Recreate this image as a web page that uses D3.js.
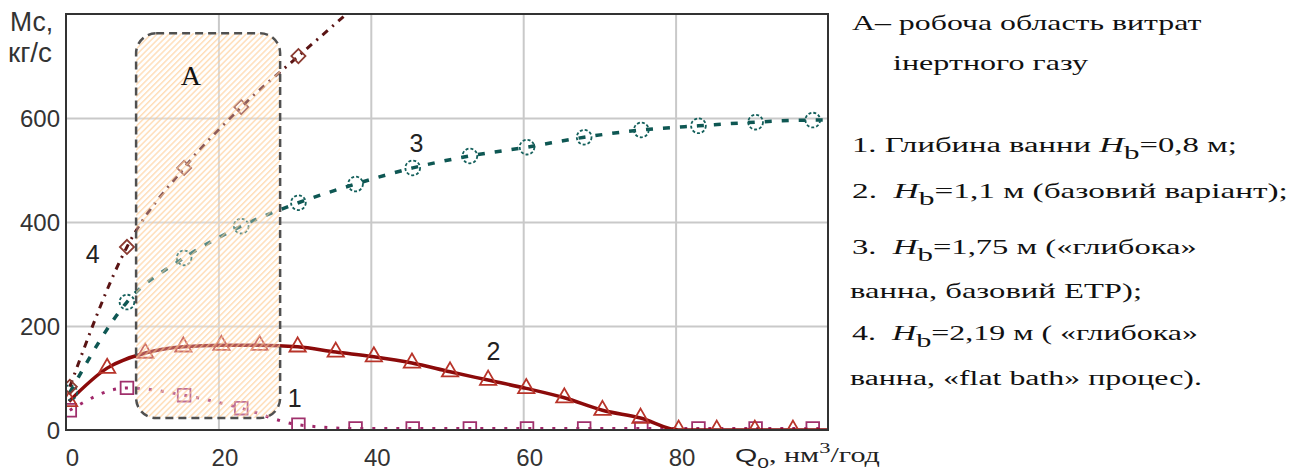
<!DOCTYPE html>
<html><head><meta charset="utf-8">
<script src="https://cdn.jsdelivr.net/npm/d3@7"></script>
<style>body{margin:0;background:#fff;} svg{display:block;}</style>
</head><body><svg id="c" width="1290" height="473"></svg>
<script>
// ---------- data ----------
const xTicks = [0, 20, 40, 60, 80];
const yTicks = [0, 200, 400, 600];
const xGrid = [20, 40, 60, 80];
const yGrid = [200, 400, 600];
// series 1 (Hb=0.8 m), squares
const q1 = [0.5, 8, 15.5, 23, 30.5, 38, 45.5, 53, 60.5, 68, 75.5, 83, 90.5, 98];
const s1 = [38, 81, 67, 42, 10, 3, 3, 3, 3, 3, 3, 3, 3, 3];
// series 2 (Hb=1.1 m), triangles
const q2 = [0.4, 5.4, 10.4, 15.4, 20.4, 25.4, 30.4, 35.4, 40.4, 45.4, 50.4, 55.4, 60.4, 65.4, 70.4, 75.4, 80.4, 85.4, 90.4, 95.4];
const s2 = [55, 119, 148, 160, 163, 163, 160, 150, 141, 129, 112, 96, 80, 62, 38, 23, 0, 0, 0, 0];
// series 3 (Hb=1.75 m), circles
const q3 = [0.5, 8, 15.5, 23, 30.5, 38, 45.5, 53, 60.5, 68, 75.5, 83, 90.5, 98];
const s3 = [72, 246, 331, 392, 437, 473, 504, 527, 544, 563, 577, 585, 592, 596];
// series 4 (Hb=2.19 m), diamonds
const q4 = [0.5, 8, 15.5, 23, 30.5, 38];
const s4 = [83, 352, 504, 621, 719, 815];
// working area A
const areaAX = [9.2, 28.1];
const areaAY = [23, 763];
// curve labels
const curveLabels = ["1", "2", "3", "4"];
const curveLabelX = [30.0, 56.1, 46.0, 3.5];
const curveLabelY = [44, 135, 535, 321];
const areaLabel = "А";
const areaLabelX = 16.4, areaLabelY = 663;
const legendText = [
  "А– робоча область витрат",
  "інертного газу",
  "1. Глибина ванни H_b=0,8 м;",
  "2.  H_b=1,1 м (базовий варіант);",
  "3.  H_b=1,75 м («глибока»",
  "ванна, базовий ЕТР);",
  "4.  H_b=2,19 м ( «глибока»",
  "ванна, «flat bath» процес)."
];

// ---------- layout ----------
const svg = d3.select('#c');
const x = d3.scaleLinear().domain([0, 100]).range([66, 828]);
const y = d3.scaleLinear().domain([0, 800]).range([430, 14]);
const pw = x(100) - x(0), ph = y(0) - y(800);

const defs = svg.append('defs');
defs.append('clipPath').attr('id', 'plotClip').append('rect')
  .attr('x', x(0)).attr('y', y(800)).attr('width', pw).attr('height', ph);
const pat = defs.append('pattern').attr('id', 'hatch')
  .attr('patternUnits', 'userSpaceOnUse').attr('width', 4.2).attr('height', 4.2)
  .attr('patternTransform', 'rotate(45)');
pat.append('rect').attr('width', 4.2).attr('height', 4.2).attr('fill', 'rgba(255,255,255,0.3)');
pat.append('rect').attr('x', 0).attr('width', 1.5).attr('height', 4.2).attr('fill', 'rgba(255,200,140,0.6)');

// grid
const grid = svg.append('g');
grid.append('g').attr('transform', `translate(0,${y(0)})`)
  .call(d3.axisBottom(x).tickValues(xGrid).tickSize(-ph).tickFormat(''))
  .call(g => g.select('.domain').remove())
  .selectAll('line').attr('stroke', '#c9c9c9').attr('stroke-width', 2);
grid.append('g').attr('transform', `translate(${x(0)},0)`)
  .call(d3.axisLeft(y).tickValues(yGrid).tickSize(-pw).tickFormat(''))
  .call(g => g.select('.domain').remove())
  .selectAll('line').attr('stroke', '#c9c9c9').attr('stroke-width', 2);

// series
const plot = svg.append('g').attr('clip-path', 'url(#plotClip)');
const series = [
  { q: q1, v: s1, line: '#a0286a', lw: 3, dash: '3,9', mk: '#a0306c', sym: 'square', mdash: null },
  { q: q2, v: s2, line: '#8b0a0a', lw: 3.5, dash: null, mk: '#b8342a', sym: 'triangle', mdash: null },
  { q: q3, v: s3, line: '#0e5753', lw: 3.5, dash: '7,10', mk: '#14605c', sym: 'circle', mdash: '3,2' },
  { q: q4, v: s4, line: '#5a1414', lw: 3, dash: '7,6,2,6', mk: '#8a3a30', sym: 'diamond', mdash: null }
];
const symType = { square: d3.symbolSquare, triangle: d3.symbolTriangle, circle: d3.symbolCircle, diamond: d3.symbolSquare };
const symSize = { square: 160, triangle: 115, circle: 170, diamond: 100 };
const lineGen = d3.line().x(d => x(d[0])).y(d => y(d[1])).curve(d3.curveMonotoneX);
series.forEach(s => {
  const pts = s.q.map((q, i) => [q, s.v[i]]);
  const last = pts[pts.length - 1];
  const lpts = last[0] < 100 && last[1] < 800 ? pts.concat([[100, last[1]]]) : pts;
  plot.append('path').attr('d', lineGen(lpts)).attr('fill', 'none')
    .attr('stroke', s.line).attr('stroke-width', s.lw)
    .attr('stroke-dasharray', s.dash);
  plot.append('g').selectAll('path').data(pts).join('path')
    .attr('d', d3.symbol().type(symType[s.sym]).size(symSize[s.sym]))
    .attr('transform', d => `translate(${x(d[0])},${y(d[1])})` + (s.sym === 'diamond' ? ' rotate(45)' : ''))
    .attr('fill', 'none').attr('stroke', s.mk).attr('stroke-width', 1.8)
    .attr('stroke-dasharray', s.mdash);
});

// region A
const ra = svg.append('rect')
  .attr('x', x(areaAX[0])).attr('y', y(areaAY[1]))
  .attr('width', x(areaAX[1]) - x(areaAX[0])).attr('height', y(areaAY[0]) - y(areaAY[1]))
  .attr('rx', 20).attr('ry', 20);
ra.clone().attr('fill', 'url(#hatch)').attr('stroke', 'none');
ra.attr('fill', 'none').attr('stroke', '#505050').attr('stroke-width', 2.5).attr('stroke-dasharray', '8,5');
ra.raise();

// frame
svg.append('rect').attr('x', x(0)).attr('y', y(800)).attr('width', pw).attr('height', ph)
  .attr('fill', 'none').attr('stroke', '#333').attr('stroke-width', 2);

// tick labels
const sans = 'Liberation Sans, Arial, sans-serif';
const serif = 'Liberation Serif, Times New Roman, serif';
svg.append('g').attr('transform', `translate(0,${y(0)})`)
  .call(d3.axisBottom(x).tickValues(xTicks).tickSize(0).tickPadding(0))
  .call(g => g.select('.domain').remove())
  .selectAll('text').attr('font-family', sans).attr('font-size', 24).attr('fill', '#333')
  .attr('dy', null).attr('y', 36).attr('x', 6);
svg.append('g').attr('transform', `translate(${x(0)},0)`)
  .call(d3.axisLeft(y).tickValues(yTicks).tickSize(0).tickPadding(6))
  .call(g => g.select('.domain').remove())
  .selectAll('text').attr('font-family', sans).attr('font-size', 24).attr('fill', '#333')
  .attr('dy', '0.36em');

// helper to fit a text group horizontally
function fitText(g, tx, ty, w) {
  const bb = g.node().getBBox();
  g.attr('transform', `translate(${tx - bb.x * (w / bb.width)},${ty}) scale(${w / bb.width},1)`);
}

// y title
let g1 = svg.append('g');
g1.append('text').attr('font-family', sans).attr('font-size', 27).attr('fill', '#333').text('Мс,');
fitText(g1, 10, 31, 43);
let g2 = svg.append('g');
g2.append('text').attr('font-family', sans).attr('font-size', 27).attr('fill', '#333').text('кг/с');
fitText(g2, 8, 62, 44);

// x title
let gx = svg.append('g');
const xt = gx.append('text').attr('fill', '#222');
xt.append('tspan').attr('font-family', sans).attr('font-size', 19).text('Q');
xt.append('tspan').attr('font-family', sans).attr('font-size', 14).attr('dy', 6).text('0');
xt.append('tspan').attr('font-family', serif).attr('font-size', 20).attr('dy', -6).text(', нм');
xt.append('tspan').attr('font-family', serif).attr('font-size', 15).attr('dy', -9).text('3');
xt.append('tspan').attr('font-family', serif).attr('font-size', 20).attr('dy', 9).text('/год');
fitText(gx, 735, 462, 145);

// curve labels
svg.append('g').selectAll('text').data(curveLabels).join('text')
  .attr('x', (d, i) => x(curveLabelX[i])).attr('y', (d, i) => y(curveLabelY[i]))
  .attr('text-anchor', 'middle').attr('font-family', sans).attr('font-size', 25).attr('fill', '#222')
  .text(d => d);
svg.append('text').attr('x', x(areaLabelX)).attr('y', y(areaLabelY))
  .attr('text-anchor', 'middle').attr('font-family', serif).attr('font-size', 28).attr('fill', '#111')
  .text(areaLabel);

// legend
const legX = [852, 893, 852, 852, 852, 850, 852, 850];
const legY = [30, 70, 152, 198, 254, 298, 340, 385];
const legW = [350, 195, 385, 436, 345, 292, 346, 352];
legendText.forEach((t, i) => {
  const g = svg.append('g');
  const tx = g.append('text').attr('font-family', serif).attr('font-size', 20).attr('fill', '#111')
    .attr('xml:space', 'preserve').style('white-space', 'pre');
  const idx = t.indexOf('H_b');
  if (idx < 0) { tx.append('tspan').text(t); }
  else {
    tx.append('tspan').text(t.slice(0, idx));
    tx.append('tspan').attr('font-style', 'italic').attr('font-size', 21).text('H');
    tx.append('tspan').attr('font-size', 19).attr('dy', 7).text('b');
    tx.append('tspan').attr('dy', -7).text(t.slice(idx + 3));
  }
  fitText(g, legX[i], legY[i], legW[i]);
});
</script></body></html>
